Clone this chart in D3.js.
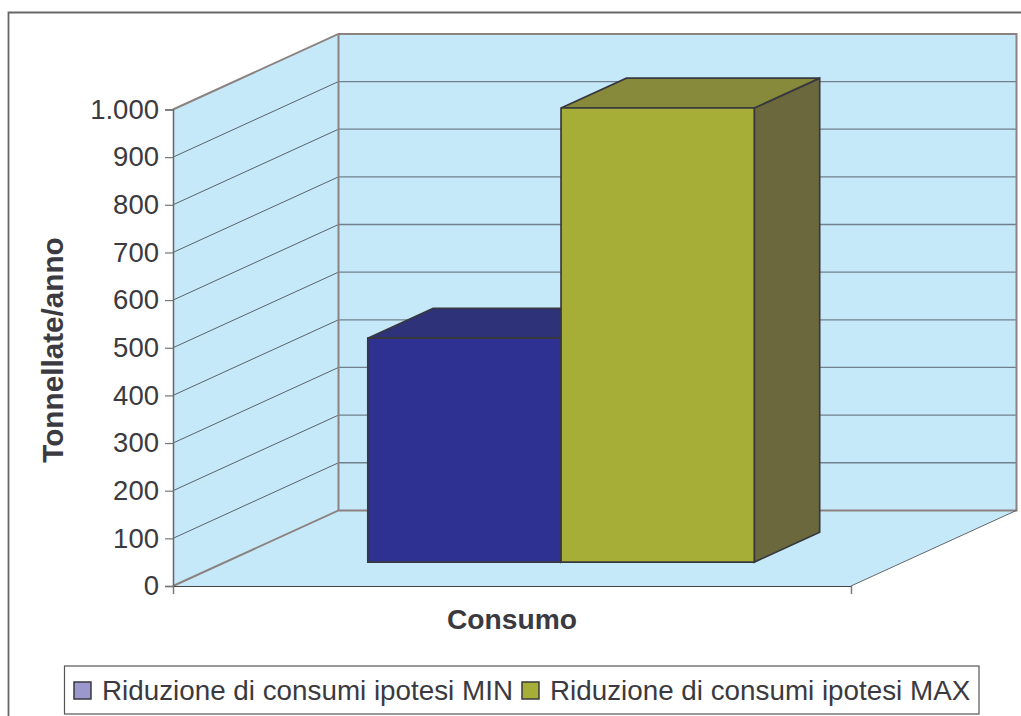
<!DOCTYPE html>
<html lang="it">
<head>
<meta charset="UTF-8">
<title>Consumo</title>
<script src="https://d3js.org/d3.v7.min.js"></script>
<style>
  html, body { margin: 0; padding: 0; background: #fff; overflow: hidden; }
  svg { display: block; }
  text { font-family: "Liberation Sans", Arial, sans-serif; fill: #3a3a40; }
</style>
</head>
<body>
<script>
// data
const categories = ["Consumo"];
const series = ["Riduzione di consumi ipotesi MIN", "Riduzione di consumi ipotesi MAX"];
const values = [470, 953];
const tickValues = [0, 100, 200, 300, 400, 500, 600, 700, 800, 900, 1000];
const tickLabels = ["0", "100", "200", "300", "400", "500", "600", "700", "800", "900", "1.000"];
const yTitle = "Tonnellate/anno";

const faceColors = ["#2e3192", "#a6ae38"];
const topColors = ["#2e3278", "#87893b"];
const sideColors = ["#24265f", "#6b683d"];
const legendColors = ["#9c97cc", "#a6ae38"];

const width = 1021, height = 716;
const svg = d3.select("body").append("svg").attr("width", width).attr("height", height);

const y = d3.scaleLinear().domain([0, 1000]).range([586, 109.5]);
const xCat = d3.scaleBand().domain(categories).range([173, 851]);
const xBar = d3.scaleBand().domain(series).range([315.5, 702]);
// oblique projection: depth 0 = front of the floor, 1 = back wall
const depthX = d3.scaleLinear().domain([0, 1]).range([0, 165.5]);
const depthY = d3.scaleLinear().domain([0, 1]).range([0, -75.6]);
const barFront = 0.316, barBack = 0.711;

const line = d3.line();
const pt = (px, val, depth) => [px + depthX(depth), y(val) + depthY(depth)];

// frame
svg.append("path")
  .attr("d", `M${width},12.5H8.5V${height}`)
  .attr("fill", "none").attr("stroke", "#666").attr("stroke-width", 1.8);

const x0 = xCat.range()[0], x1 = xCat.range()[1];
const wallGray = "#8c8280";

// floor
svg.append("path")
  .attr("d", line([pt(x0, 0, 0), pt(x1, 0, 0), pt(x1, 0, 1), pt(x0, 0, 1)]) + "Z")
  .attr("fill", "#c6e9fa");
// side wall
svg.append("path")
  .attr("d", line([pt(x0, 0, 0), pt(x0, 0, 1), pt(x0, 1000, 1), pt(x0, 1000, 0)]) + "Z")
  .attr("fill", "#c6e9fa");
// back wall
svg.append("path")
  .attr("d", line([pt(x0, 0, 1), pt(x1, 0, 1), pt(x1, 1000, 1), pt(x0, 1000, 1)]) + "Z")
  .attr("fill", "#c6e9fa");

// grid lines
const gridVals = tickValues.filter(v => v > 0 && v < 1000);
svg.append("g").selectAll("path").data(gridVals).join("path")
  .attr("d", v => line([pt(x0, v, 0), pt(x0, v, 1)]))
  .attr("fill", "none").attr("stroke", "#3c4046").attr("stroke-width", 0.8);
svg.append("g").selectAll("path").data(gridVals).join("path")
  .attr("d", v => line([pt(x0, v, 1), pt(x1, v, 1)]))
  .attr("fill", "none").attr("stroke", "#71808c").attr("stroke-width", 1.3);

// wall edges
svg.append("path")
  .attr("d", line([pt(x0, 0, 0), pt(x0, 0, 1), pt(x1, 0, 1), pt(x1, 1000, 1), pt(x0, 1000, 1), pt(x0, 1000, 0)]))
  .attr("fill", "none").attr("stroke", wallGray).attr("stroke-width", 2);
svg.append("path")
  .attr("d", line([pt(x0, 0, 1), pt(x0, 1000, 1)]))
  .attr("fill", "none").attr("stroke", wallGray).attr("stroke-width", 2);
svg.append("path")
  .attr("d", line([pt(x1, 0, 0), pt(x1, 0, 1)]))
  .attr("fill", "none").attr("stroke", "#444").attr("stroke-width", 0.8);

// bars, back to front
const bars = svg.append("g").attr("stroke", "#38383f").attr("stroke-width", 1.7).attr("stroke-linejoin", "miter");
series.forEach((s, i) => {
  const l = xBar(s), r = l + xBar.bandwidth(), v = values[i];
  bars.append("path")
    .attr("d", line([pt(r, 0, barFront), pt(r, 0, barBack), pt(r, v, barBack), pt(r, v, barFront)]) + "Z")
    .attr("fill", sideColors[i]);
  bars.append("path")
    .attr("d", line([pt(l, v, barFront), pt(r, v, barFront), pt(r, v, barBack), pt(l, v, barBack)]) + "Z")
    .attr("fill", topColors[i]);
  bars.append("path")
    .attr("d", line([pt(l, 0, barFront), pt(r, 0, barFront), pt(r, v, barFront), pt(l, v, barFront)]) + "Z")
    .attr("fill", faceColors[i]);
});

// axes
const yAxis = d3.axisLeft(y).tickValues(tickValues)
  .tickFormat((d, i) => tickLabels[i]).tickSize(8).tickPadding(6);
const gy = svg.append("g").attr("transform", `translate(${x0},0)`).call(yAxis);
gy.select(".domain").attr("stroke", "#666").attr("stroke-width", 1.5);
gy.selectAll(".tick line").attr("stroke", "#777").attr("stroke-width", 1.2);
gy.selectAll("text").attr("font-size", 27.5).attr("font-family", null).attr("fill", null);
gy.attr("font-family", null).attr("font-size", null);

const xAxis = d3.axisBottom(d3.scaleLinear().domain([0, 1]).range([x0, x1]))
  .tickValues([0, 1]).tickFormat("").tickSize(8);
const gx = svg.append("g").attr("transform", `translate(0,${y(0)})`).call(xAxis);
gx.select(".domain").attr("stroke", "#444").attr("stroke-width", 1.2);
gx.selectAll(".tick line").attr("stroke", "#777").attr("stroke-width", 1.2);

// axis titles
svg.append("text")
  .attr("x", xCat(categories[0]) + xCat.bandwidth() / 2).attr("y", 629)
  .attr("text-anchor", "middle").attr("font-size", 28.2).attr("font-weight", "bold")
  .text(categories[0]);
svg.append("text")
  .attr("transform", "translate(62.5,350) rotate(-90)")
  .attr("text-anchor", "middle").attr("font-size", 29.7).attr("font-weight", "bold")
  .text(yTitle);

// legend
svg.append("rect").attr("x", 64.5).attr("y", 666).attr("width", 914.5).attr("height", 48)
  .attr("fill", "#fff").attr("stroke", "#555").attr("stroke-width", 1.2);
const legendX = d3.scalePoint().domain(series).range([74, 522]);
series.forEach((s, i) => {
  svg.append("rect").attr("x", legendX(s)).attr("y", 682).attr("width", 17).attr("height", 17)
    .attr("fill", legendColors[i]).attr("stroke", "#38383f").attr("stroke-width", 1.5);
  svg.append("text").attr("x", legendX(s) + 28).attr("y", 700)
    .attr("font-size", 27.8).text(s);
});
</script>
</body>
</html>
